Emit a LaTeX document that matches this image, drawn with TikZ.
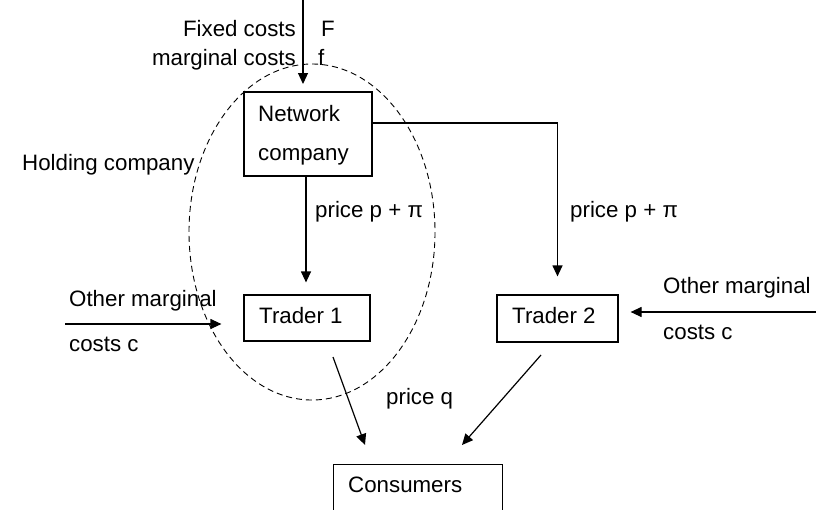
\documentclass[tikz,border=0pt]{standalone}
\usepackage{fontspec}
\setmainfont{Liberation Sans}
\usetikzlibrary{arrows.meta}
\begin{document}
\begin{tikzpicture}[x=1pt,y=-1pt,
  box/.style={draw, line width=1.2pt, inner sep=0pt},
  txt/.style={inner sep=0pt, anchor=base west, font=\fontsize{22.3pt}{26pt}\selectfont},
  txtr/.style={txt, anchor=base east},
  arr/.style={line width=1.2pt, -{Triangle[length=11pt,width=10pt]}},
  ln/.style={line width=1.2pt}]
\useasboundingbox (0,0) rectangle (816,509);
\clip (0,0) rectangle (816,509);
\fill[white] (0,0) rectangle (816,509);
% boxes
\node[box, minimum width=128pt, minimum height=84pt] (net) at (308,134) {};
\node[box, minimum width=126pt, minimum height=46pt] (t1) at (307,318) {};
\node[box, minimum width=121pt, minimum height=47pt] (t2) at (557.5,318.5) {};
\node[box, minimum width=169pt, minimum height=70pt, anchor=north west] (cons) at (333,464) {};
% holding company ellipse
\draw[dash pattern=on 6pt off 4pt, line width=0.9pt] (312,232) ellipse [x radius=123, y radius=168];
% texts
\node[txt] at (258,121) {Network};
\node[txt] at (258,160) {company};
\node[txt] at (259,323) {Trader 1};
\node[txt] at (512,323) {Trader 2};
\node[txt] at (348,492) {Consumers};
\node[txtr] at (296,36) {Fixed costs};
\node[txt] at (321,36) {F};
\node[txtr] at (296,65) {marginal costs};
\node[txt] at (318,65) {f};
\node[txt] at (22,170) {Holding company};
\node[txt] at (69,306) {Other marginal};
\node[txt] at (69,351) {costs c};
\node[txt] at (663,293) {Other marginal};
\node[txt] at (663,339) {costs c};
\node[txt] at (315,217) {price p + π};
\node[txt] at (570,217) {price p + π};
\node[txt] at (386,404) {price q};
% connectors
\coordinate (top) at (303,0);
\coordinate (topend) at (303,84);
\draw[arr] (top) -- (topend);
\coordinate (netb) at (306,176);
\draw[arr, shorten >=12pt] (netb) -- (netb |- t1.north);
\coordinate (netr) at (net.east |- 0,123);
\draw[arr, shorten >=18pt] (netr) -- (t2.north |- netr) -- (t2.north);
\coordinate (lin) at (65,324);
\draw[arr, shorten >=22pt] (lin) -- (t1.west |- lin);
\coordinate (rin) at (816,312);
\draw[arr, shorten >=12pt] (rin) -- (t2.east |- rin);
\coordinate (t1out) at (333,357);
\coordinate (c1) at (365,445);
\draw[arr] (t1out) -- (c1);
\coordinate (t2out) at (541,355);
\coordinate (c2) at (462,445);
\draw[arr] (t2out) -- (c2);
\end{tikzpicture}
\end{document}
